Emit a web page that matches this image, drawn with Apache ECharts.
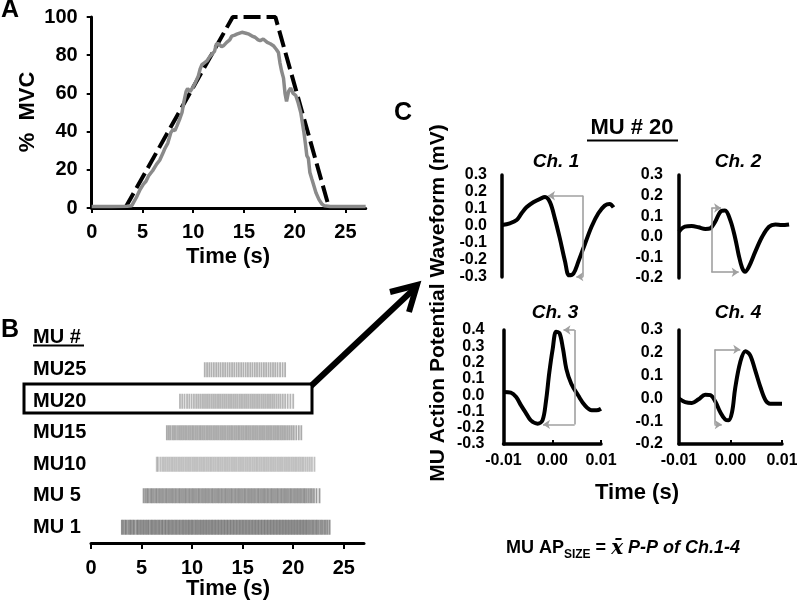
<!DOCTYPE html>
<html><head><meta charset="utf-8">
<script src="https://cdn.jsdelivr.net/npm/echarts@6/dist/echarts.min.js"></script>
<style>html,body{margin:0;padding:0;background:#fff}#c{width:797px;height:606px}</style>
</head><body><div id="c"></div>
<script>
// ---------- Panel A: force trace (% MVC) ----------
const forceTime = [0,2,3.5,3.95,4.1,4.4,4.77,5.1,5.35,5.6,6.0,6.4,6.7,7.0,7.2,7.5,7.8,8.0,8.2,8.4,8.7,8.9,9.1,9.3,9.45,9.7,10.0,10.2,10.5,10.7,10.86,11.1,11.35,11.6,11.84,12.1,12.3,12.5,12.8,13.0,13.3,13.6,13.8,14.1,14.3,14.8,15.2,15.5,15.8,16.1,16.4,16.6,16.9,17.3,17.6,17.9,18.2,18.4,18.55,18.7,18.9,19.05,19.2,19.4,19.6,19.85,20.1,20.35,20.6,20.75,20.9,21.05,21.2,21.35,21.5,21.7,21.9,22.1,22.4,22.7,22.9,23.5,27];
const forcePct  = [0.8,0.8,0.9,1.2,2.7,5.5,9.7,12.5,14,16.8,19.5,23,25,28.5,31,34,39.5,41,40.5,43,47,50,56,61,62.5,61,63.5,65.5,69,73,75,76,77,79,80.5,82,86,86,84.5,85,86.7,88,90,90.5,91,92,91.5,91,90,89.4,88,87.6,88.5,86.7,86,85,83,81.4,76,72,68,60,55.8,61,62.8,60,59,55,50,45,40,34,27.4,26,18.6,15,11.5,8,4.4,2,1.2,0.8,0.8];
const targetTime = [3.3,13.9,18.1,23.4];
const targetPct  = [0,100,100,0];
const timeTicks = [0,5,10,15,20,25];

// ---------- Panel B: motor unit spike times (s) ----------
const muLabels = ['MU 1','MU 5','MU10','MU15','MU20','MU25'];
const spikesMU1 = [3.05,3.2,3.38,3.52,3.7,3.86,4.0,4.17,4.31,4.5,4.64,4.8,4.95,5.12,5.26,5.43,5.58,5.72,5.9,6.04,6.2,6.35,6.5,6.66,6.8,6.97,7.1,7.27,7.41,7.58,7.72,7.88,8.03,8.18,8.34,8.48,8.64,8.79,8.95,9.1,9.25,9.4,9.56,9.7,9.86,10.0,10.15,10.31,10.45,10.6,10.76,10.9,11.06,11.2,11.36,11.5,11.66,11.81,11.96,12.1,12.26,12.4,12.56,12.7,12.86,13.0,13.16,13.3,13.46,13.6,13.76,13.9,14.06,14.2,14.36,14.5,14.66,14.8,14.96,15.1,15.26,15.4,15.56,15.7,15.86,16.0,16.16,16.3,16.46,16.6,16.76,16.9,17.06,17.2,17.36,17.5,17.66,17.8,17.96,18.1,18.26,18.4,18.56,18.7,18.86,19.0,19.16,19.3,19.46,19.6,19.76,19.9,20.06,20.2,20.36,20.5,20.66,20.8,20.96,21.1,21.26,21.4,21.56,21.72,21.88,22.03,22.2,22.35,22.52,22.7,22.86,23.05,23.22,23.4,23.6];
const spikesMU5 = [5.2,5.38,5.55,5.7,5.88,6.03,6.2,6.37,6.52,6.7,6.85,7.02,7.18,7.35,7.5,7.67,7.83,8.0,8.15,8.32,8.48,8.65,8.8,8.97,9.13,9.3,9.45,9.62,9.78,9.95,10.1,10.27,10.43,10.6,10.75,10.92,11.08,11.25,11.4,11.57,11.73,11.9,12.05,12.22,12.38,12.55,12.7,12.87,13.03,13.2,13.35,13.52,13.68,13.85,14.0,14.17,14.33,14.5,14.65,14.82,14.98,15.15,15.3,15.47,15.63,15.8,15.95,16.12,16.28,16.45,16.6,16.77,16.93,17.1,17.25,17.42,17.58,17.75,17.9,18.07,18.23,18.4,18.55,18.72,18.88,19.05,19.2,19.37,19.53,19.7,19.85,20.02,20.18,20.35,20.5,20.67,20.83,21.0,21.15,21.32,21.5,21.68,21.85,22.05,22.3,22.6];
const spikesMU10 = [6.5,6.62,6.85,7.05,7.22,7.4,7.58,7.75,7.93,8.1,8.28,8.45,8.63,8.8,8.98,9.15,9.33,9.5,9.68,9.85,10.03,10.2,10.38,10.55,10.73,10.9,11.08,11.25,11.43,11.6,11.78,11.95,12.13,12.3,12.48,12.65,12.83,13.0,13.18,13.35,13.53,13.7,13.88,14.05,14.23,14.4,14.58,14.75,14.93,15.1,15.28,15.45,15.63,15.8,15.98,16.15,16.33,16.5,16.68,16.85,17.03,17.2,17.38,17.55,17.73,17.9,18.08,18.25,18.43,18.6,18.78,18.95,19.13,19.3,19.48,19.65,19.83,20.0,20.18,20.35,20.53,20.7,20.88,21.05,21.25,21.45,21.65,21.85,22.1];
const spikesMU15 = [7.5,7.68,7.85,8.05,8.22,8.4,8.6,8.78,8.95,9.12,9.3,9.47,9.65,9.82,10.0,10.17,10.35,10.52,10.7,10.87,11.05,11.22,11.4,11.57,11.75,11.92,12.1,12.27,12.45,12.62,12.8,12.97,13.15,13.32,13.5,13.67,13.85,14.02,14.2,14.37,14.55,14.72,14.9,15.07,15.25,15.42,15.6,15.77,15.95,16.12,16.3,16.47,16.65,16.82,17.0,17.17,17.35,17.52,17.7,17.87,18.05,18.22,18.4,18.57,18.75,18.92,19.1,19.28,19.47,19.66,19.86,20.06,20.3,20.55,20.8];
const spikesMU20 = [8.8,9.02,9.25,9.5,9.72,9.95,10.18,10.4,10.6,10.8,11.0,11.18,11.37,11.55,11.73,11.92,12.1,12.28,12.47,12.65,12.83,13.02,13.2,13.38,13.57,13.75,13.93,14.12,14.3,14.48,14.67,14.85,15.03,15.22,15.4,15.58,15.77,15.95,16.13,16.32,16.5,16.68,16.87,17.05,17.23,17.42,17.6,17.78,17.97,18.15,18.35,18.55,18.75,18.97,19.2,19.45,19.72,20.0];
const spikesMU25 = [11.25,11.48,11.7,11.92,12.15,12.38,12.6,12.82,13.05,13.27,13.5,13.72,13.95,14.17,14.4,14.62,14.85,15.07,15.3,15.52,15.75,15.97,16.2,16.42,16.65,16.87,17.1,17.32,17.55,17.77,18.0,18.22,18.45,18.7,18.95,19.2];

// ---------- Panel C: MU #20 action potential waveforms (time s, mV) ----------
const ch1Time = [-0.01,-0.0084,-0.007,-0.006,-0.005,-0.0036,-0.0022,-0.0012,-0.0002,0.0008,0.0018,0.0029,0.0037,0.0046,0.0056,0.0069,0.0083,0.0097,0.011,0.012,0.0128];
const ch1Mv   = [0.006,0.016,0.035,0.075,0.11,0.14,0.16,0.17,0.14,0.045,-0.07,-0.21,-0.29,-0.28,-0.21,-0.11,-0.004,0.075,0.12,0.13,0.11];
const ch2Time = [-0.01,-0.0088,-0.0074,-0.006,-0.0046,-0.0036,-0.0026,-0.0014,-0.0006,0.0005,0.0015,0.0022,0.0029,0.0035,0.0043,0.0056,0.007,0.0084,0.0097,0.011,0.0125];
const ch2Mv   = [0.025,0.049,0.052,0.046,0.038,0.041,0.073,0.125,0.128,0.08,-0.008,-0.088,-0.15,-0.17,-0.145,-0.072,0.0,0.049,0.06,0.057,0.06];
const ch3Time = [-0.0099,-0.0085,-0.0074,-0.0064,-0.0054,-0.0044,-0.003,-0.002,-0.0013,-0.0006,0.0001,0.0008,0.0015,0.0022,0.0029,0.0039,0.0053,0.0067,0.0081,0.0091,0.01];
const ch3Mv   = [0.019,0.015,-0.012,-0.063,-0.11,-0.155,-0.175,-0.155,-0.04,0.14,0.285,0.39,0.38,0.285,0.16,0.07,-0.001,-0.063,-0.093,-0.093,-0.083];
const ch4Time = [-0.01,-0.0088,-0.0075,-0.0062,-0.0049,-0.0039,-0.0029,-0.002,-0.001,-0.0004,0.0003,0.0009,0.0019,0.0029,0.0038,0.0048,0.0058,0.0068,0.0077,0.009,0.01];
const ch4Mv   = [-0.001,-0.016,-0.02,-0.004,0.016,0.014,-0.016,-0.06,-0.093,-0.096,-0.06,0.043,0.16,0.207,0.19,0.123,0.05,-0.008,-0.023,-0.023,-0.023];
// peak-to-peak brackets: [bracket time, peak mV, peak arrow tip time, trough mV, trough arrow tip time]
const ch1PP = [0.0066, 0.178, -0.0006, -0.298, 0.0052];
const ch2PP = [-0.0034, 0.14, -0.0014, -0.172, 0.0022];
const ch3PP = [0.0046, 0.4, 0.0023, -0.18, -0.0019];
const ch4PP = [-0.0031, 0.215, 0.0019, -0.115, -0.0017];
const waveTicks = [-0.01, 0, 0.01];

// ---------- build ----------
const FONT = '"Liberation Sans", Arial, sans-serif';
const zip = (a, b) => a.map((x, i) => [x, b[i]]);
const bold = (size) => ({fontFamily: FONT, fontWeight: 'bold', fontSize: size, color: '#000'});
const fmt1 = v => (Math.abs(v) < 1e-9 ? '0.0' : v.toFixed(1));
const fmt2 = v => (Math.abs(v) < 1e-9 ? '0.00' : v.toFixed(2));

const grids = [
  {left: 91.7, top: 17, width: 274, height: 191},
  {left: 91, top: 354, width: 273, height: 189},
  {left: 502, top: 175, width: 113, height: 102},
  {left: 679, top: 175, width: 113, height: 103},
  {left: 503.5, top: 330, width: 97.5, height: 114},
  {left: 679, top: 330, width: 103, height: 114}
].map(g => Object.assign({outerBoundsMode: 'none', containLabel: false}, g));

const axLine = (w) => ({show: true, onZero: false, lineStyle: {color: '#000', width: w}});

const xAxis = [
  {gridIndex: 0, type: 'value', min: 0, max: 27, axisLine: axLine(3),
   axisTick: {show: true, length: 5, lineStyle: {width: 2, color: '#000'}, customValues: timeTicks},
   axisLabel: Object.assign(bold(20), {margin: 14, customValues: timeTicks}), splitLine: {show: false}},
  {gridIndex: 1, type: 'value', min: 0, max: 27, axisLine: axLine(3),
   axisTick: {show: true, length: 6, lineStyle: {width: 2, color: '#000'}, customValues: timeTicks},
   axisLabel: Object.assign(bold(20), {margin: 15, customValues: timeTicks}), splitLine: {show: false}},
  {gridIndex: 2, type: 'value', min: -0.01, max: 0.0131, show: false, splitLine: {show: false}},
  {gridIndex: 3, type: 'value', min: -0.01, max: 0.0131, show: false, splitLine: {show: false}},
  {gridIndex: 4, type: 'value', min: -0.01, max: 0.01, axisLine: axLine(3.5),
   axisTick: {show: true, inside: true, length: 4, lineStyle: {width: 2, color: '#000'}, customValues: waveTicks},
   axisLabel: Object.assign(bold(16), {margin: 9, formatter: fmt2, customValues: waveTicks}), splitLine: {show: false}},
  {gridIndex: 5, type: 'value', min: -0.01, max: 0.01, axisLine: axLine(3.5),
   axisTick: {show: true, inside: true, length: 4, lineStyle: {width: 2, color: '#000'}, customValues: waveTicks},
   axisLabel: Object.assign(bold(16), {margin: 9, formatter: fmt2, customValues: waveTicks}), splitLine: {show: false}}
];

const waveY = (gi, mn, mx, margin) => ({gridIndex: gi, type: 'value', min: mn, max: mx, interval: 0.1,
  axisLine: axLine(3.5), axisTick: {show: false},
  axisLabel: Object.assign(bold(16), {margin: margin, formatter: fmt1}), splitLine: {show: false}});

const yAxis = [
  {gridIndex: 0, type: 'value', min: 0, max: 100, interval: 20, axisLine: axLine(3),
   axisTick: {show: true, length: 5, lineStyle: {width: 2, color: '#000'}},
   axisLabel: Object.assign(bold(20), {margin: 14}), splitLine: {show: false}},
  {gridIndex: 1, type: 'category', data: muLabels, boundaryGap: true,
   axisLine: {show: false}, axisTick: {show: false},
   axisLabel: Object.assign(bold(20), {align: 'left', margin: 58}), splitLine: {show: false}},
  waveY(2, -0.3, 0.3, 15),
  waveY(3, -0.2, 0.3, 16),
  waveY(4, -0.3, 0.4, 19),
  waveY(5, -0.2, 0.3, 16)
];

const rasterSets = [spikesMU1, spikesMU5, spikesMU10, spikesMU15, spikesMU20, spikesMU25];
const rasterColors = ['rgba(70,70,70,0.75)', 'rgba(80,80,80,0.72)', 'rgba(150,150,150,0.75)', 'rgba(100,100,100,0.68)', 'rgba(120,120,120,0.68)', 'rgba(110,110,110,0.68)'];

function bracket(pp) {
  const [bx, top, topTip, bot, botTip] = pp;
  return {
    silent: true, symbol: ['none', 'arrow'], symbolSize: 7,
    lineStyle: {color: '#a0a0a0', width: 1.6, type: 'solid'},
    label: {show: false}, emphasis: {disabled: true}, animation: false,
    data: [
      [{coord: [bx, top]}, {coord: [topTip, top]}],
      [{coord: [bx, top], symbol: 'none'}, {coord: [bx, bot], symbol: 'none'}],
      [{coord: [bx, bot]}, {coord: [botTip, bot]}]
    ]
  };
}

const waveSeries = (gi, t, v, pp) => ({
  type: 'line', xAxisIndex: gi, yAxisIndex: gi, data: zip(t, v), smooth: 0.35,
  symbol: 'none', lineStyle: {color: '#000', width: 4}, z: 3, markLine: bracket(pp)
});

const series = [
  {type: 'line', xAxisIndex: 0, yAxisIndex: 0, data: zip(targetTime, targetPct), symbol: 'none',
   lineStyle: {color: '#000', width: 4, type: [17, 6]}, z: 2},
  {type: 'line', xAxisIndex: 0, yAxisIndex: 0, data: zip(forceTime, forcePct), symbol: 'none',
   lineStyle: {color: '#8a8a8a', width: 3.5}, z: 3},
  ...rasterSets.map((s, i) => ({
    type: 'scatter', xAxisIndex: 1, yAxisIndex: 1, data: s.map(t => [t, i]),
    symbol: 'rect', symbolSize: [1.8, 15], itemStyle: {color: rasterColors[i]}, silent: true
  })),
  waveSeries(2, ch1Time, ch1Mv, ch1PP),
  waveSeries(3, ch2Time, ch2Mv, ch2PP),
  waveSeries(4, ch3Time, ch3Mv, ch3PP),
  waveSeries(5, ch4Time, ch4Mv, ch4PP)
];

const txt = (text, x, y, size, opts) => Object.assign({
  type: 'text', x: x, y: y, silent: true,
  style: Object.assign({text: text, fontFamily: FONT, fontWeight: 'bold', fontSize: size, fill: '#000',
    align: 'center', verticalAlign: 'middle', textAlign: 'center', textVerticalAlign: 'middle'}, (opts && opts.style) || {})
}, (opts && opts.el) || {});

const graphic = [
  txt('A', 10, 10, 25),
  txt('B', 10, 330, 25),
  txt('C', 403, 113, 25),
  txt('%  MVC', 28, 112, 22, {el: {rotation: Math.PI / 2}}),
  txt('Time (s)', 228, 257, 22),
  txt('MU #', 33, 337, 20, {style: {align: 'left', textAlign: 'left'}}),
  {type: 'line', silent: true, shape: {x1: 33, y1: 345.5, x2: 84, y2: 345.5}, style: {stroke: '#000', lineWidth: 2}},
  txt('Time (s)', 228, 589, 22),
  {type: 'rect', silent: true, shape: {x: 24, y: 384, width: 288, height: 29}, style: {fill: 'none', stroke: '#000', lineWidth: 3}},
  {type: 'line', silent: true, shape: {x1: 311, y1: 386, x2: 414, y2: 289}, style: {stroke: '#000', lineWidth: 6}},
  {type: 'polyline', silent: true, shape: {points: [[390, 292], [417, 285], [409, 312]]}, style: {stroke: '#000', lineWidth: 6, fill: 'none', lineJoin: 'miter'}},
  txt('MU # 20', 632, 128, 22),
  {type: 'line', silent: true, shape: {x1: 587, y1: 140.5, x2: 678, y2: 140.5}, style: {stroke: '#000', lineWidth: 2}},
  txt('Ch. 1', 556, 162, 19, {style: {fontStyle: 'italic'}}),
  txt('Ch. 2', 738, 162, 19, {style: {fontStyle: 'italic'}}),
  txt('Ch. 3', 555, 313, 19, {style: {fontStyle: 'italic'}}),
  txt('Ch. 4', 738, 313, 19, {style: {fontStyle: 'italic'}}),
  txt('MU Action Potential Waveform (mV)', 438, 303, 21, {el: {rotation: Math.PI / 2}}),
  txt('Time (s)', 637, 493, 22),
  {type: 'text', x: 623, y: 549, silent: true,
   style: {text: '{a|MU AP}{s|SIZE}{a| = }{x|x\u0304}{i| P-P of Ch.1-4}', align: 'center', verticalAlign: 'middle',
     textAlign: 'center', textVerticalAlign: 'middle',
     rich: {
       a: {fontFamily: FONT, fontWeight: 'bold', fontSize: 18, fill: '#000', color: '#000', lineHeight: 20, verticalAlign: 'top'},
       s: {fontFamily: FONT, fontWeight: 'bold', fontSize: 12, fill: '#000', color: '#000', lineHeight: 12, padding: [10, 0, 0, 0], verticalAlign: 'top'},
       x: {fontFamily: '"DejaVu Serif", "Liberation Serif", serif', fontWeight: 'bold', fontStyle: 'italic', fontSize: 20, fill: '#000', color: '#000', lineHeight: 20, verticalAlign: 'top'},
       i: {fontFamily: FONT, fontWeight: 'bold', fontStyle: 'italic', fontSize: 18, fill: '#000', color: '#000', lineHeight: 20, verticalAlign: 'top'}
     }}}
];

const chart = echarts.init(document.getElementById('c'));
chart.setOption({
  animation: false,
  backgroundColor: '#fff',
  grid: grids,
  xAxis: xAxis,
  yAxis: yAxis,
  series: series,
  graphic: graphic
});
</script>
</body></html>
